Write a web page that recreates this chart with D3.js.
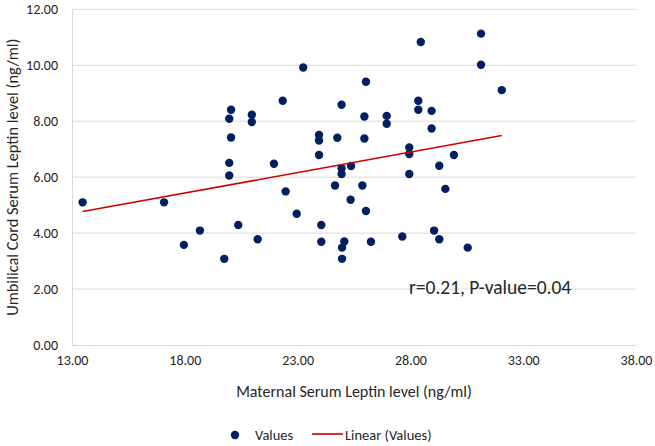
<!DOCTYPE html>
<html>
<head>
<meta charset="utf-8">
<script src="https://cdn.jsdelivr.net/npm/d3@7"></script>
<style>
  html, body { margin: 0; padding: 0; background: #fff; }
  svg { display: block; }
  text { font-family: Carlito, Calibri, Lato, "Liberation Sans", sans-serif; fill: #262626; }
</style>
</head>
<body>
<svg id="chart" width="655" height="446"></svg>
<script>
// Maternal serum leptin (x) vs umbilical cord serum leptin (y), ng/ml
const maternal = [
  20.05, 19.97, 20.97, 20.97, 20.05, 19.97, 19.97, 28.46, 23.25, 26.03,
  22.34, 24.95, 25.96, 26.95, 26.95, 28.35, 28.35, 28.94, 28.94, 23.95,
  23.95, 24.76, 25.96, 23.95, 21.95, 27.95, 27.95, 25.37, 24.95, 24.95,
  27.95, 29.28, 31.13, 31.13, 32.05, 29.93, 13.47, 17.08, 18.67, 17.96,
  20.37, 19.75, 21.23, 22.47, 24.66, 25.87, 25.35, 26.03, 22.96, 24.05,
  24.05, 25.07, 24.97, 24.97, 26.25, 27.64, 29.05, 29.28, 29.55, 30.54
];
const cord = [
  8.41, 8.09, 8.23, 7.97, 7.42, 6.51, 6.06, 10.83, 9.92, 9.41,
  8.73, 8.59, 8.17, 8.19, 7.91, 8.73, 8.41, 8.37, 7.74, 7.51,
  7.31, 7.41, 7.38, 6.79, 6.48, 7.06, 6.83, 6.40, 6.32, 6.11,
  6.11, 6.41, 11.13, 10.02, 9.11, 6.79, 5.10, 5.10, 4.09, 3.58,
  4.29, 3.08, 3.78, 5.49, 5.70, 5.70, 5.19, 4.79, 4.69, 4.29,
  3.69, 3.70, 3.48, 3.08, 3.69, 3.88, 4.09, 3.78, 5.58, 3.48
];
// Linear trendline endpoints (as drawn)
const trendX = [13.47, 32.05];
const trendY = [4.77, 7.49];

const xTicks = [13, 18, 23, 28, 33, 38];
const yTicks = [0, 2, 4, 6, 8, 10, 12];
const xTitle = "Maternal Serum Leptin level (ng/ml)";
const yTitle = "Umbilical Cord Serum Leptin level (ng/ml)";
const annotation = "r=0.21, P-value=0.04";
const legendLabels = ["Values", "Linear (Values)"];

const svg = d3.select("#chart");
const m = { left: 72, right: 636, top: 9.3, bottom: 345 };

const x = d3.scaleLinear().domain([13, 38]).range([m.left, m.right]);
const y = d3.scaleLinear().domain([0, 12]).range([m.bottom, m.top]);

// gridlines
svg.append("g")
  .selectAll("line")
  .data(yTicks.filter(d => d > 0))
  .join("line")
  .attr("x1", m.left).attr("x2", m.right)
  .attr("y1", d => y(d)).attr("y2", d => y(d))
  .attr("stroke", "#d9d9d9").attr("stroke-width", 1);

// x axis
const xAxis = svg.append("g")
  .attr("transform", `translate(0,${m.bottom})`)
  .call(d3.axisBottom(x).tickValues(xTicks).tickFormat(d3.format(".2f")).tickSize(0).tickPadding(10));
xAxis.select(".domain").attr("stroke", "#d9d9d9");
xAxis.selectAll("text").style("font-size", "14px").attr("fill", "#262626");

// y axis
const yAxis = svg.append("g")
  .attr("transform", `translate(${m.left},0)`)
  .call(d3.axisLeft(y).tickValues(yTicks).tickFormat(d3.format(".2f")).tickSize(0).tickPadding(14));
yAxis.select(".domain").attr("stroke", "#d9d9d9");
yAxis.selectAll("text").style("font-size", "14px").attr("fill", "#262626");

// axis titles
svg.append("text")
  .attr("x", (m.left + m.right) / 2).attr("y", 397)
  .attr("text-anchor", "middle")
  .style("font-size", "16px")
  .text(xTitle);

svg.append("text")
  .attr("transform", `translate(18,${(m.top + m.bottom) / 2}) rotate(-90)`)
  .attr("text-anchor", "middle")
  .style("font-size", "16.4px")
  .text(yTitle);

// points
const pts = maternal.map((v, i) => ({ x: v, y: cord[i] }));
svg.append("g")
  .selectAll("circle")
  .data(pts)
  .join("circle")
  .attr("cx", d => x(d.x)).attr("cy", d => y(d.y))
  .attr("r", 4.2)
  .attr("fill", "#002060");

// trendline
svg.append("line")
  .attr("x1", x(trendX[0])).attr("y1", y(trendY[0]))
  .attr("x2", x(trendX[1])).attr("y2", y(trendY[1]))
  .attr("stroke", "#d00000").attr("stroke-width", 1.6);

// annotation
svg.append("text")
  .attr("x", 409).attr("y", 294)
  .style("font-size", "19.5px")
  .attr("fill", "#1a1a1a")
  .text(annotation);

// legend
const lg = svg.append("g");
lg.append("circle").attr("cx", 235).attr("cy", 435).attr("r", 4.2).attr("fill", "#002060");
lg.append("text").attr("x", 255).attr("y", 440).style("font-size", "14.5px").text(legendLabels[0]);
lg.append("line").attr("x1", 312).attr("x2", 343).attr("y1", 434).attr("y2", 434)
  .attr("stroke", "#d00000").attr("stroke-width", 1.6);
lg.append("text").attr("x", 345).attr("y", 440).style("font-size", "14.5px").text(legendLabels[1]);
</script>
</body>
</html>
